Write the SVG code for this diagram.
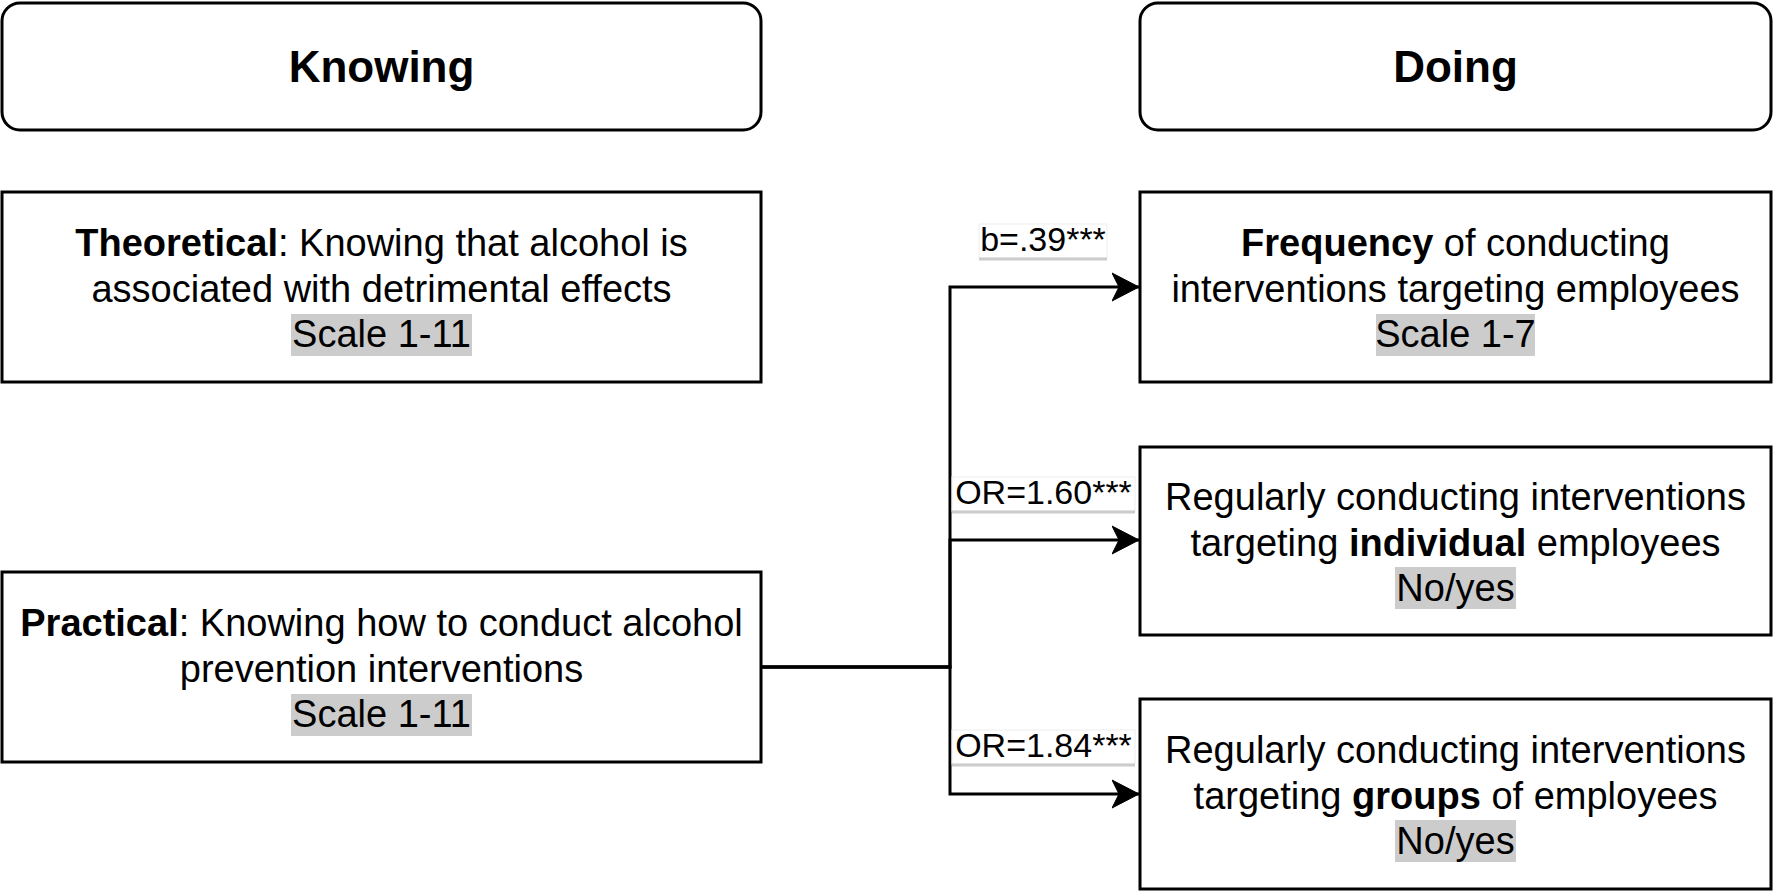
<svg xmlns="http://www.w3.org/2000/svg" width="1773" height="891" viewBox="0 0 1773 891">
<defs>
<style>
.box{fill:#fff;stroke:#000;stroke-width:3}
.t{font-family:"Liberation Sans",Arial,sans-serif;font-size:38px;fill:#000;text-anchor:middle}
.h{font-family:"Liberation Sans",Arial,sans-serif;font-size:44px;font-weight:bold;fill:#000;text-anchor:middle}
.b{font-weight:bold}
.hl{fill:#cccccc}
.edge{fill:none;stroke:#000;stroke-width:3}
.lbg{fill:#fff;stroke:#eeeeee;stroke-width:1}
.lul{stroke:#cccccc;stroke-width:3}
.lt{font-family:"Liberation Sans",Arial,sans-serif;font-size:34px;fill:#000;text-anchor:middle}
</style>
<marker id="arrow" markerWidth="28" markerHeight="30" refX="27" refY="15" orient="auto" markerUnits="userSpaceOnUse" viewBox="0 0 28 30">
<path d="M0,1 L27,15 L0,29 L7,15 Z" fill="#000" stroke="#000" stroke-width="1"/>
</marker>
</defs>

<g id="knowing">
<rect class="box" x="2" y="3" width="759" height="127" rx="18" ry="18"/>
<text class="h" x="381.5" y="82">Knowing</text>
</g>

<g id="doing">
<rect class="box" x="1140" y="3" width="631" height="127" rx="18" ry="18"/>
<text class="h" x="1455.5" y="82">Doing</text>
</g>

<g id="theoretical">
<rect class="box" x="2" y="192" width="759" height="190"/>
<rect class="hl" x="291" y="314" width="181" height="42"/>
<text class="t" x="381.5" y="256"><tspan class="b">Theoretical</tspan>: Knowing that alcohol is</text>
<text class="t" x="381.5" y="302">associated with detrimental effects</text>
<text class="t" x="381.5" y="347">Scale 1-11</text>
</g>

<g id="practical">
<rect class="box" x="2" y="572" width="759" height="190"/>
<rect class="hl" x="291" y="694" width="181" height="42"/>
<text class="t" x="381.5" y="636"><tspan class="b">Practical</tspan>: Knowing how to conduct alcohol</text>
<text class="t" x="381.5" y="682">prevention interventions</text>
<text class="t" x="381.5" y="727">Scale 1-11</text>
</g>

<g id="frequency">
<rect class="box" x="1140" y="192" width="631" height="190"/>
<rect class="hl" x="1376" y="314" width="159" height="42"/>
<text class="t" x="1455.5" y="256"><tspan class="b">Frequency</tspan> of conducting</text>
<text class="t" x="1455.5" y="302">interventions targeting employees</text>
<text class="t" x="1455.5" y="347">Scale 1-7</text>
</g>

<g id="individual">
<rect class="box" x="1140" y="447" width="631" height="188"/>
<rect class="hl" x="1395" y="567" width="121" height="42"/>
<text class="t" x="1455.5" y="510">Regularly conducting interventions</text>
<text class="t" x="1455.5" y="556">targeting <tspan class="b">individual</tspan> employees</text>
<text class="t" x="1455.5" y="601">No/yes</text>
</g>

<g id="groups">
<rect class="box" x="1140" y="699" width="631" height="190"/>
<rect class="hl" x="1395" y="820" width="121" height="42"/>
<text class="t" x="1455.5" y="763">Regularly conducting interventions</text>
<text class="t" x="1455.5" y="809">targeting <tspan class="b">groups</tspan> of employees</text>
<text class="t" x="1455.5" y="854">No/yes</text>
</g>

<g id="connectors">
<path class="edge" d="M761,667 H950 V287 H1139" marker-end="url(#arrow)"/>
<path class="edge" d="M761,667 H950 V540 H1139" marker-end="url(#arrow)"/>
<path class="edge" d="M761,667 H950 V794 H1139" marker-end="url(#arrow)"/>
<g id="label-b">
<rect class="lbg" x="979" y="224" width="128" height="34"/>
<line class="lul" x1="979" y1="259" x2="1107" y2="259"/>
<text class="lt" x="1043" y="251">b=.39***</text>
</g>
<g id="label-or160">
<rect class="lbg" x="952" y="477" width="183" height="34"/>
<line class="lul" x1="952" y1="512" x2="1135" y2="512"/>
<text class="lt" x="1043.5" y="504">OR=1.60***</text>
</g>
<g id="label-or184">
<rect class="lbg" x="952" y="730" width="183" height="34"/>
<line class="lul" x1="952" y1="765" x2="1135" y2="765"/>
<text class="lt" x="1043.5" y="757">OR=1.84***</text>
</g>
</g>
</svg>
